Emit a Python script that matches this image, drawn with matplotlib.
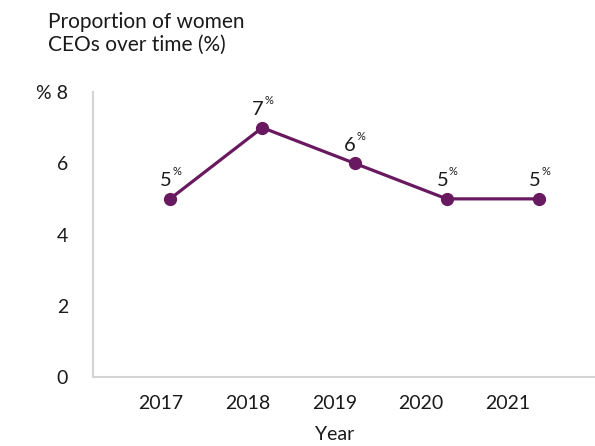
import matplotlib
matplotlib.use("Agg")
import matplotlib.pyplot as plt

plt.rcParams["font.family"] = ["Lato", "DejaVu Sans"]

years = [2017, 2018, 2019, 2020, 2021]
share = [5, 7, 6, 5, 5]
year_labels = ["2017", "2018", "2019", "2020", "2021"]
y_ticks = [0, 2, 4, 6, 8]
y_tick_labels = ["0", "2", "4", "6", "% 8"]

purple = "#68195f"
text_col = "#1a1a1a"
spine_col = "#d4d4d4"

fig = plt.figure(figsize=(5.95, 4.46), dpi=100)
ax = fig.add_axes([93 / 595, 69 / 446, 502 / 595, 285 / 446])

ax.plot(years, share, color=purple, lw=2.3, marker="o", ms=8.5,
        solid_capstyle="round", zorder=3)

for x, v in zip(years, share):
    ax.annotate(str(v), (x, v), xytext=(1, 9), textcoords="offset points",
                ha="right", va="baseline", fontsize=14.5, color=text_col)
    ax.annotate("%", (x, v), xytext=(1.5, 17), textcoords="offset points",
                ha="left", va="baseline", fontsize=8, color=text_col)

ax.set_xlim(2016.165, 2021.607)
ax.set_ylim(0, 8)
ax.set_yticks(y_ticks)
ax.set_yticklabels(y_tick_labels)
ax.tick_params(axis="y", length=0, pad=18, labelsize=14, labelcolor=text_col)
ax.set_xticks([])

for side in ("top", "right"):
    ax.spines[side].set_visible(False)
for side in ("left", "bottom"):
    ax.spines[side].set_color(spine_col)
    ax.spines[side].set_linewidth(1.5)

# year labels sit on their own evenly spaced scale
ax_lbl = ax.twiny()
ax_lbl.set_xlim(-0.784, 5.003)
ax_lbl.xaxis.set_ticks_position("bottom")
ax_lbl.xaxis.set_label_position("bottom")
ax_lbl.set_xticks(range(len(year_labels)))
ax_lbl.set_xticklabels(year_labels)
ax_lbl.tick_params(axis="x", length=0, pad=13, labelsize=14, labelcolor=text_col)
ax_lbl.set_xlabel("Year", fontsize=14, color=text_col)
ax_lbl.xaxis.set_label_coords(242 / 502, -0.172)
for s in ax_lbl.spines.values():
    s.set_visible(False)

fig.text(48 / 595, 1 - 12 / 446, "Proportion of women\nCEOs over time (%)",
         ha="left", va="top", fontsize=15, color=text_col, linespacing=1.2)

fig.savefig("out.png", dpi=100)
